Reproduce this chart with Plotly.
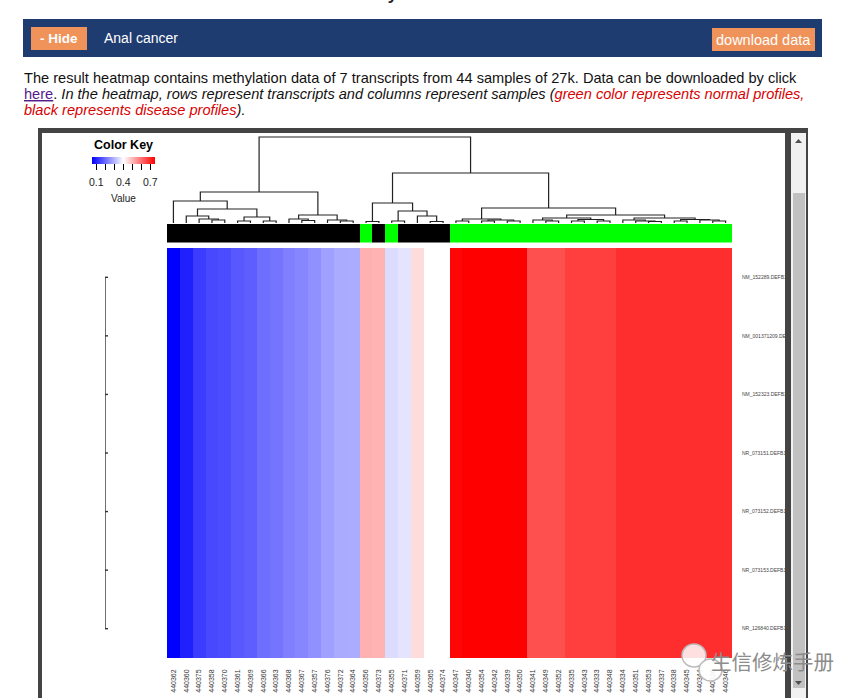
import plotly.graph_objects as go

W, H = 862, 698

def X(px):
    return px / W

def Y(py):
    return 1 - py / H

# ---------------- data ----------------
samples = ["440362", "440360", "440375", "440358", "440370", "440361", "440369", "440366",
           "440363", "440368", "440367", "440357", "440376", "440372", "440364", "440356",
           "440373", "440355", "440371", "440359", "440365", "440374", "440347", "440340",
           "440354", "440342", "440339", "440350", "440341", "440349", "440352", "440335",
           "440343", "440333", "440348", "440334", "440351", "440353", "440337", "440338",
           "440345", "440344", "440336", "440346"]

transcripts = ["NM_152289.DEFB116", "NM_001371209.DEFB116", "NM_152323.DEFB116",
               "NR_073151.DEFB116", "NR_073152.DEFB116", "NR_073153.DEFB116",
               "NR_126840.DEFB116"]

# methylation value per sample (identical across the 7 transcripts)
sample_values = [0.050, 0.094, 0.132, 0.149, 0.154, 0.171, 0.179, 0.201,
                 0.209, 0.226, 0.234, 0.248, 0.270, 0.283, 0.286, 0.508,
                 0.505, 0.352, 0.363, 0.448, 0.400, 0.400, 0.742, 0.750,
                 0.750, 0.750, 0.750, 0.750, 0.640, 0.640, 0.640, 0.665,
                 0.665, 0.665, 0.665, 0.687, 0.687, 0.687, 0.687, 0.687,
                 0.687, 0.687, 0.687, 0.687]

values = {t: sample_values for t in transcripts}

# 1 = disease (black), 0 = normal (green)
sample_type = [1, 1, 1, 1, 1, 1, 1, 1, 1, 1, 1, 1, 1, 1, 1, 0,
               1, 0, 1, 1, 1, 1, 0, 0, 0, 0, 0, 0, 0, 0, 0, 0,
               0, 0, 0, 0, 0, 0, 0, 0, 0, 0, 0, 0]

# column dendrogram: [height, left, right]; leaves are sample indices
col_tree = [86,
            [31,
             [22, 0, [14, [7, 1, [4, 2, [3, 3, 4]]], [6, [2, 5, 6], [2, 7, 8]]]],
             [8, [4, 9, [2.5, 10, 11]], [3, 12, [2, 13, 14]]]],
            [50,
             [20, [1.5, 15, 16], [12, [2, 17, 18], [7, 19, [1.5, 20, 21]]]],
             [15,
              [4, [2, 22, 23], [3, [2, 24, 25], [2, 26, 27]]],
              [8,
               [5, [3, 28, [2, 29, 30]], [3.5, [2, 31, 32], [2, 33, 34]]],
               [5, [3, 35, [2, 36, [1.5, 37, 38]]], [3.5, [2, 39, 40], [3, 41, [2, 42, 43]]]]]]]]

key_ticks = [0.1, 0.2, 0.3, 0.4, 0.5, 0.6, 0.7]
key_labels = ["0.1", "", "", "0.4", "", "", "0.7"]
ZMIN, ZMAX = 0.05, 0.75

# ---------------- dendrogram segments ----------------
dx, dy = [], []

def walk(node):
    if isinstance(node, int):
        return float(node), 0.0
    h, l, r = node
    lp, lh = walk(l)
    rp, rh = walk(r)
    dx.extend([lp, lp, rp, rp, None])
    dy.extend([lh, h, h, rh, None])
    return (lp + rp) / 2, h

walk(col_tree)

# row dendrogram (all transcripts identical -> zero height)
rx, ry = [0, 0, None], [0, len(transcripts) - 1, None]
for i in range(len(transcripts)):
    rx += [0, 0.3, None]
    ry += [i, i, None]

z = [values[t] for t in transcripts]
ncol = len(samples)

KEY_X0, KEY_LEN = 92, 63

fig = go.Figure()

fig.add_trace(go.Heatmap(
    z=z, x=list(range(ncol)), y=list(range(len(transcripts))),
    colorscale=[[0, "#0000ff"], [0.5, "#ffffff"], [1, "#ff0000"]],
    zmin=ZMIN, zmax=ZMAX, xaxis="x", yaxis="y",
    hoverinfo="skip",
    colorbar=dict(orientation="h", x=X(KEY_X0 + KEY_LEN / 2), xanchor="center", y=Y(156.5), yanchor="top",
                  len=KEY_LEN, lenmode="pixels", thickness=7, thicknessmode="pixels",
                  outlinewidth=0, tickvals=key_ticks, ticktext=[""] * len(key_ticks),
                  ticks="outside", ticklen=6, tickcolor="#000", tickwidth=1,
                  tickfont=dict(size=4, family="Liberation Sans", color="#222"),
                  xpad=0, ypad=0),
))

fig.add_trace(go.Heatmap(
    z=[sample_type], x=list(range(ncol)), y=[0],
    colorscale=[[0, "#00ff00"], [1, "#000000"]], zmin=0, zmax=1,
    showscale=False, xaxis="x", yaxis="y3", hoverinfo="skip",
))

fig.add_trace(go.Scatter(x=dx, y=dy, mode="lines", xaxis="x", yaxis="y2",
                         line=dict(color="#222", width=1.2), hoverinfo="skip",
                         showlegend=False))

fig.add_trace(go.Scatter(x=rx, y=ry, mode="lines", xaxis="x2", yaxis="y",
                         line=dict(color="#333", width=1.4), hoverinfo="skip",
                         showlegend=False))

shapes = []
# image frame
shapes.append(dict(type="rect", xref="paper", yref="paper", x0=X(38), x1=X(808), y0=Y(710), y1=Y(128),
                   fillcolor="#444444", line=dict(width=0), layer="below"))
shapes.append(dict(type="rect", xref="paper", yref="paper", x0=X(42), x1=X(785), y0=Y(710), y1=Y(133),
                   fillcolor="#ffffff", line=dict(width=0), layer="below"))
# header bar
shapes.append(dict(type="rect", xref="paper", yref="paper", x0=X(23), x1=X(822), y0=Y(57), y1=Y(19),
                   fillcolor="#1f3c70", line=dict(width=0), layer="below"))
shapes.append(dict(type="rect", xref="paper", yref="paper", x0=X(31), x1=X(87), y0=Y(50), y1=Y(27),
                   fillcolor="#ef935a", line=dict(width=0), layer="below"))
shapes.append(dict(type="rect", xref="paper", yref="paper", x0=X(712), x1=X(815), y0=Y(51), y1=Y(28),
                   fillcolor="#ef935a", line=dict(width=0), layer="below"))
# right edge / scrollbar (drawn above to clip long row labels)
shapes.append(dict(type="rect", xref="paper", yref="paper", x0=X(785), x1=X(791), y0=Y(710), y1=Y(133),
                   fillcolor="#444444", line=dict(width=0), layer="above"))
shapes.append(dict(type="rect", xref="paper", yref="paper", x0=X(791), x1=X(806), y0=Y(710), y1=Y(133),
                   fillcolor="#f1f1f1", line=dict(width=0), layer="above"))
shapes.append(dict(type="rect", xref="paper", yref="paper", x0=X(793), x1=X(805), y0=Y(688), y1=Y(193),
                   fillcolor="#c1c1c1", line=dict(width=0), layer="above"))
shapes.append(dict(type="path", xref="paper", yref="paper",
                   path=f"M {X(795)} {Y(143)} L {X(802)} {Y(143)} L {X(798.5)} {Y(139)} Z",
                   fillcolor="#505050", line=dict(width=0), layer="above"))
shapes.append(dict(type="path", xref="paper", yref="paper",
                   path=f"M {X(795)} {Y(681)} L {X(802)} {Y(681)} L {X(798.5)} {Y(685)} Z",
                   fillcolor="#505050", line=dict(width=0), layer="above"))
# watermark icon
shapes.append(dict(type="circle", xref="paper", yref="paper", x0=X(682), x1=X(706), y0=Y(667), y1=Y(644),
                   fillcolor="rgba(255,255,255,0.85)", line=dict(color="#bbbbbb", width=1.5), layer="above"))
shapes.append(dict(type="circle", xref="paper", yref="paper", x0=X(699), x1=X(722), y0=Y(681), y1=Y(659),
                   fillcolor="rgba(255,255,255,0.9)", line=dict(color="#bbbbbb", width=1.5), layer="above"))

RED = "#d90000"
FS = 14.6
ann = []
ann.append(dict(text="<b>Methylation Profile</b>", x=X(424), y=Y(6), xanchor="center", yanchor="bottom",
                font=dict(size=17, color="#222", family="Liberation Sans")))
ann.append(dict(text="<b>- Hide</b>", x=X(59), y=Y(38.5), xanchor="center", yanchor="middle",
                font=dict(size=13.5, color="#ffffff", family="Liberation Sans")))
ann.append(dict(text="Anal cancer", x=X(102), y=Y(38.5), xanchor="left", yanchor="middle",
                font=dict(size=14, color="#ffffff", family="Liberation Sans")))
ann.append(dict(text="download data", x=X(763.5), y=Y(39.5), xanchor="center", yanchor="middle",
                font=dict(size=14.5, color="#ffffff", family="Liberation Sans")))
ann.append(dict(text="The result heatmap contains methylation data of 7 transcripts from 44 samples of 27k. "
                     "Data can be downloaded by click",
                x=X(22), y=Y(78), xanchor="left", yanchor="middle",
                font=dict(size=FS, color="#111", family="Liberation Sans")))
ann.append(dict(text="<span style='color:#551a8b;text-decoration:underline'>here</span>. "
                     "<i>In the heatmap, rows represent transcripts and columns represent samples (</i>"
                     f"<i><span style='color:{RED}'>green color represents normal profiles,</span></i>",
                x=X(22), y=Y(94), xanchor="left", yanchor="middle",
                font=dict(size=FS, color="#111", family="Liberation Sans")))
ann.append(dict(text=f"<i><span style='color:{RED}'>black represents disease profiles</span>).</i>",
                x=X(22), y=Y(110), xanchor="left", yanchor="middle",
                font=dict(size=FS, color="#111", family="Liberation Sans")))
ann.append(dict(text="<b>Color Key</b>", x=X(123.5), y=Y(145.5), xanchor="center", yanchor="middle",
                font=dict(size=12.5, color="#000", family="Liberation Sans")))
ann.append(dict(text="Value", x=X(123.5), y=Y(198), xanchor="center", yanchor="middle",
                font=dict(size=10, color="#222", family="Liberation Sans")))
for v, lab in zip(key_ticks, key_labels):
    if lab:
        ann.append(dict(text=lab, x=X(KEY_X0 + (v - ZMIN) / (ZMAX - ZMIN) * KEY_LEN), y=Y(182.5),
                        xanchor="center", yanchor="middle",
                        font=dict(size=10.5, color="#222", family="Liberation Sans")))
ann.append(dict(text="生信修炼手册", x=X(709), y=Y(661), xanchor="left", yanchor="middle",
                font=dict(size=20.5, color="#8c8c8c", family="Noto Sans CJK SC")))
for a in ann:
    a.update(xref="paper", yref="paper", showarrow=False)

fig.update_layout(
    width=W, height=H, margin=dict(l=0, r=0, t=0, b=0),
    paper_bgcolor="#ffffff", plot_bgcolor="rgba(0,0,0,0)",
    showlegend=False, shapes=shapes, annotations=ann,
    xaxis=dict(domain=[X(167), X(732)], range=[-0.5, ncol - 0.5], anchor="y",
               tickvals=list(range(ncol)), ticktext=samples, tickangle=-90,
               tickfont=dict(size=7, color="#333", family="Liberation Sans"),
               ticks="", ticklabelstandoff=9, showgrid=False, zeroline=False, showline=False),
    yaxis=dict(domain=[Y(658), Y(248)], range=[len(transcripts) - 0.5, -0.5], anchor="x",
               side="right", tickvals=list(range(len(transcripts))), ticktext=transcripts,
               tickfont=dict(size=5, color="#444", family="Liberation Sans"),
               ticks="", ticklabelstandoff=9, showgrid=False, zeroline=False, showline=False),
    yaxis2=dict(domain=[Y(223), Y(136)], range=[0, 87], anchor="x", visible=False),
    yaxis3=dict(domain=[Y(242.5), Y(224)], range=[-0.5, 0.5], anchor="x", visible=False),
    xaxis2=dict(domain=[X(105), X(115)], range=[0, 1], anchor="y", visible=False),
)

fig.write_html("out.html")
